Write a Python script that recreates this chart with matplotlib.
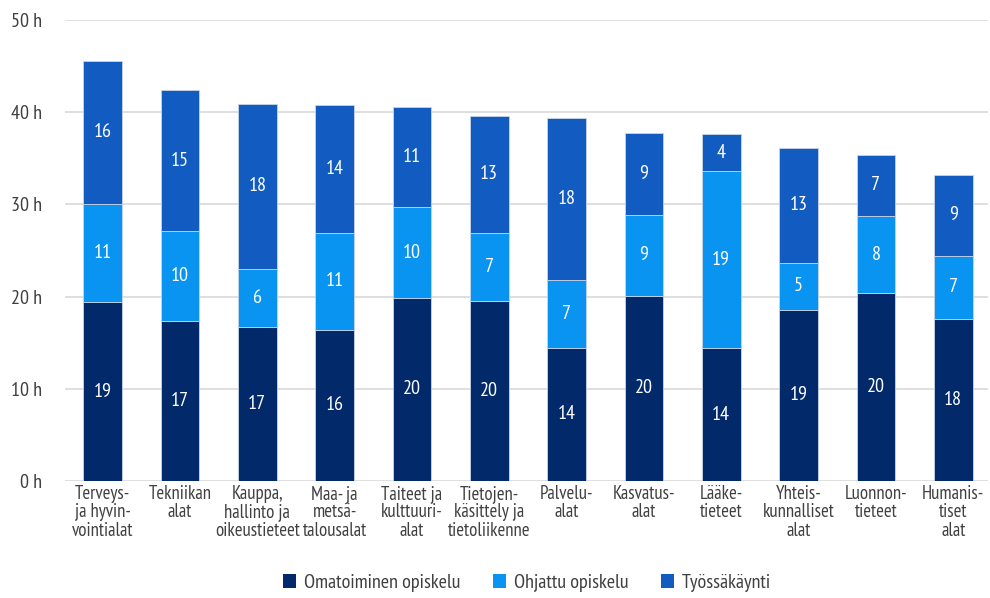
import matplotlib
matplotlib.use("Agg")
import matplotlib.pyplot as plt
import numpy as np
from matplotlib.patches import Patch

categories = ["Terveys-\nja hyvin-\nvointialat", "Tekniikan\nalat", "Kauppa,\nhallinto ja\noikeustieteet",
              "Maa- ja\nmetsä-\ntalousalat", "Taiteet ja\nkulttuuri-\nalat", "Tietojen-\nkäsittely ja\ntietoliikenne",
              "Palvelu-\nalat", "Kasvatus-\nalat", "Lääke-\ntieteet", "Yhteis-\nkunnalliset\nalat",
              "Luonnon-\ntieteet", "Humanis-\ntiset\nalat"]
omatoiminen = [19.4, 17.35, 16.7, 16.4, 19.85, 19.5, 14.45, 20.1, 14.4, 18.55, 20.4, 17.6]
ohjattu = [10.6, 9.75, 6.3, 10.55, 9.85, 7.4, 7.4, 8.8, 19.2, 5.1, 8.3, 6.8]
tyossakaynti = [15.6, 15.3, 17.9, 13.8, 10.9, 12.7, 17.5, 8.8, 4.0, 12.5, 6.7, 8.8]
series_names = ["Omatoiminen opiskelu", "Ohjattu opiskelu", "Työssäkäynti"]
colors = ["#022a6b", "#0894f0", "#125cc1"]
yticks = [0, 10, 20, 30, 40, 50]

plt.rcParams['font.family'] = ['PT Sans Narrow', 'DejaVu Sans']
txt = "#404040"

fig = plt.figure(figsize=(9.9, 5.98), dpi=100)
ax = fig.add_axes([65/990, (598-481)/598, (988-65)/990, (481-20)/598])

x = np.arange(len(categories))
bottom = np.zeros(len(categories))
for vals, col in zip([omatoiminen, ohjattu, tyossakaynti], colors):
    vals = np.array(vals)
    ax.bar(x, vals, bottom=bottom, width=0.5, color=col, edgecolor="#c8d4e8", linewidth=0.6, zorder=3)
    for xi, b, v in zip(x, bottom, vals):
        ax.text(xi, b + v/2, f"{int(np.floor(v + 0.5))}", ha="center", va="center", color="white", fontsize=14.5, zorder=4)
    bottom += vals

ax.set_xlim(-0.488, 11.45)
ax.set_ylim(0, 50)
ax.set_yticks(yticks)
ax.set_yticklabels([f"{t} h" for t in yticks], fontsize=14.5, color=txt)
ax.set_xticks(x)
ax.set_xticklabels(categories, fontsize=13.5, color=txt, linespacing=1.02)
ax.tick_params(axis="both", length=0)
ax.tick_params(axis="y", pad=16.5)
ax.tick_params(axis="x", pad=3)
ax.yaxis.grid(True, color="#d9d9d9", linewidth=1.2, zorder=0)
for s in ax.spines.values():
    s.set_visible(False)

handles = [Patch(facecolor=c, edgecolor="none") for c in colors]
fig.legend(handles, series_names, loc="center", bbox_to_anchor=(527/990, 1-583/598), ncol=3,
           frameon=False, fontsize=14.5, labelcolor=txt, handlelength=0.65, handleheight=0.65,
           columnspacing=1.6, handletextpad=0.4)

fig.savefig("out.png", dpi=100)
